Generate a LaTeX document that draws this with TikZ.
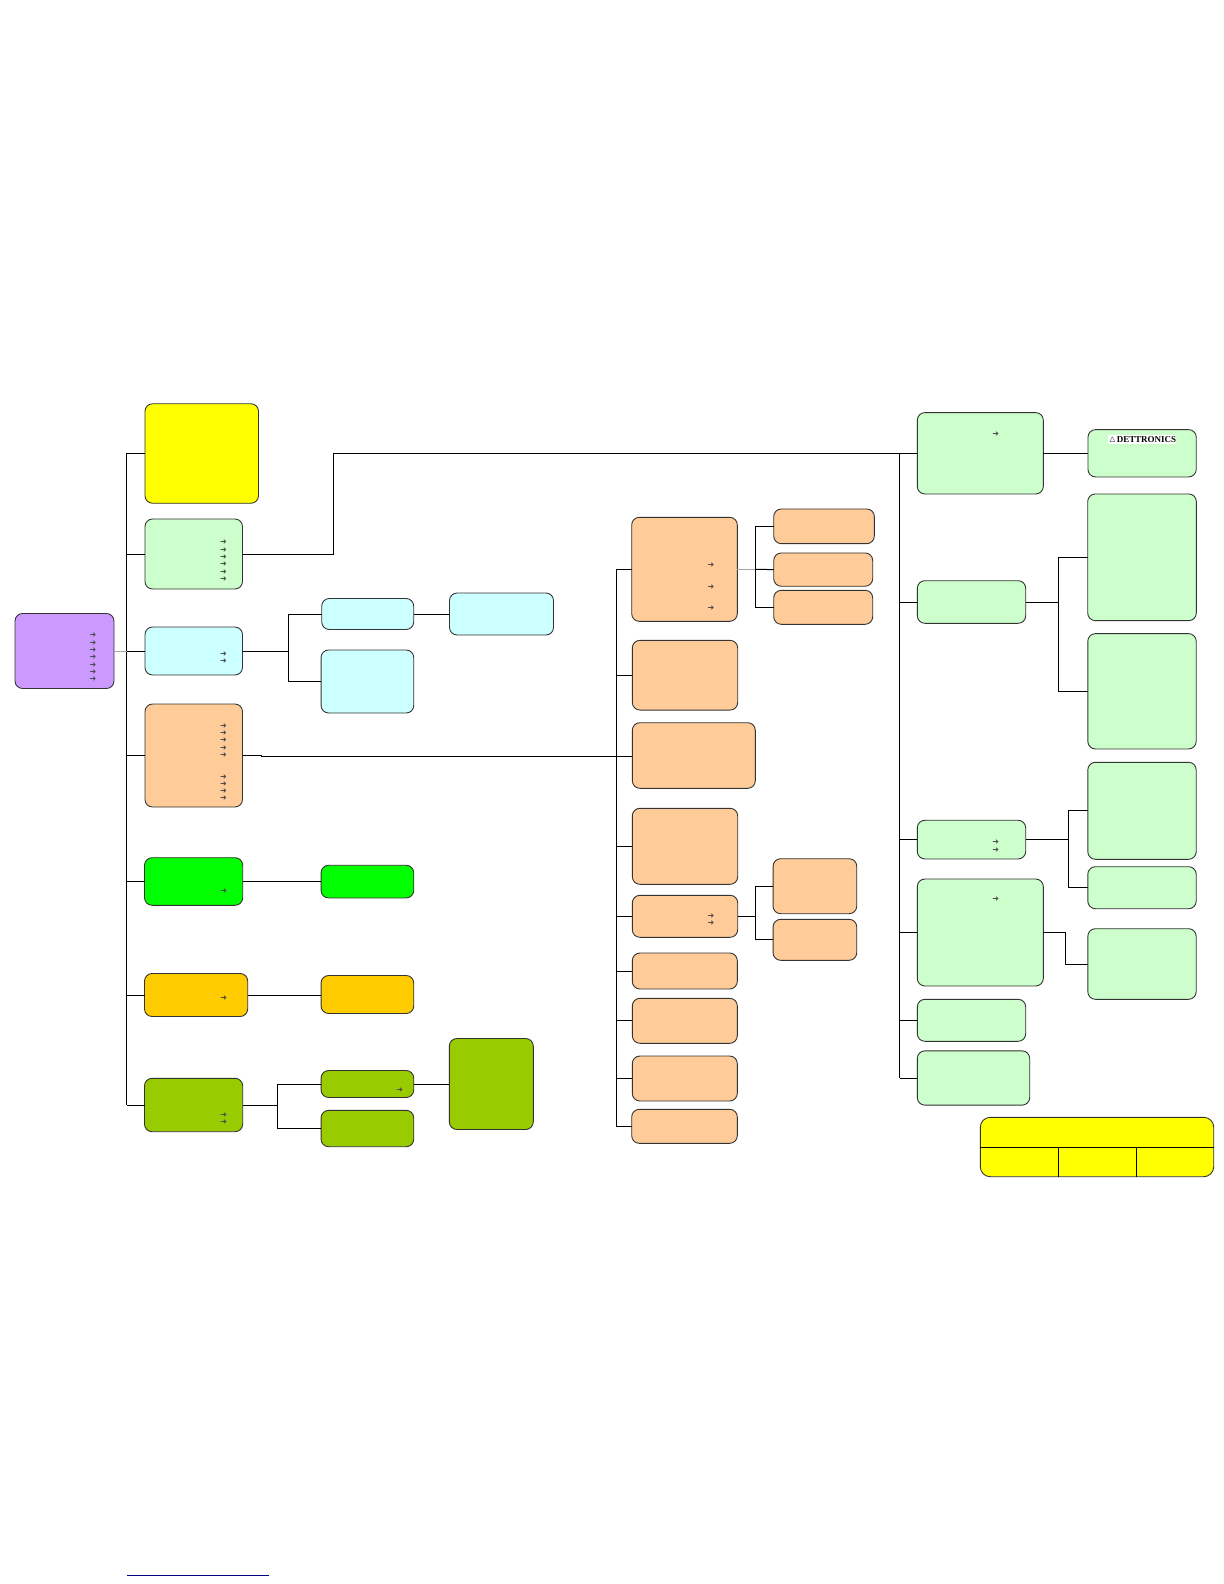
\documentclass[tikz,border=0pt]{standalone}
\usepackage{fontspec}
\newfontfamily\symfont{DejaVu Sans}
\newfontfamily\logofont{Liberation Serif}
\definecolor{purplebox}{HTML}{CC99FF}
\definecolor{mintbox}{HTML}{CCFFCC}
\definecolor{icebox}{HTML}{CCFFFF}
\definecolor{peachbox}{HTML}{FFCC99}
\definecolor{limebox}{HTML}{00FF00}
\definecolor{amberbox}{HTML}{FFCC00}
\definecolor{olivebox}{HTML}{99CC00}
\definecolor{yellowbox}{HTML}{FFFF00}
\tikzset{
    box/.style={draw=black!80, line width=0.45pt, rounded corners=3.8pt, inner sep=0pt, outer sep=0pt},
    wh/.style 2 args={minimum width=#1*0.5pt, minimum height=#2*0.5pt},
    link/.style={line width=0.5pt, black},
    paleLink/.style={line width=0.5pt, black!35},
    arrowmark/.style={inner sep=0pt, font=\symfont\fontsize{4}{4}\selectfont, text=black!70},
}
\begin{document}
\begin{tikzpicture}[x=0.5pt, y=-0.5pt]
    \useasboundingbox (0,0) rectangle (1224,1584);
    % left column
    \node[box, fill=purplebox, wh={99}{75}] (pur) at (64.5,651) {};
    \node[box, fill=yellowbox, wh={113.5}{99.5}] (yel) at (201.75,453.5) {};
    \node[box, fill=mintbox, wh={97.5}{70}] (mnt) at (193.75,554) {};
    \node[box, fill=icebox, wh={97.5}{48}] (ice) at (193.75,651) {};
    \node[box, fill=peachbox, wh={97.5}{103}] (pch) at (193.75,755.5) {};
    \node[box, fill=limebox, wh={98.2}{47.6}] (lim) at (193.6,881.5) {};
    \node[box, fill=amberbox, wh={103.2}{43}] (amb) at (196.1,995) {};
    \node[box, fill=olivebox, wh={98.2}{53.4}] (oli) at (193.6,1105) {};
    % second column
    \node[box, fill=icebox, wh={92}{31}] (iceA) at (367.7,614) {};
    \node[box, fill=icebox, wh={92.7}{63}] (iceB) at (367.4,681.5) {};
    \node[box, fill=icebox, wh={104}{42}] (iceC) at (501.5,614) {};
    \node[box, fill=limebox, wh={92.7}{32.7}] (limA) at (367.4,881.6) {};
    \node[box, fill=amberbox, wh={92.7}{38}] (ambA) at (367.4,994.5) {};
    \node[box, fill=olivebox, wh={92.7}{27}] (oliA) at (367.4,1084) {};
    \node[box, fill=olivebox, wh={92.7}{36.4}] (oliB) at (367.4,1128.5) {};
    \node[box, fill=olivebox, wh={84}{91}] (oliC) at (491.3,1084) {};
    % peach column
    \node[box, fill=peachbox, wh={105.6}{104}] (pchA) at (684.5,569.3) {};
    \node[box, fill=peachbox, wh={105.4}{69.7}] (pchB) at (685,675.2) {};
    \node[box, fill=peachbox, wh={123}{65.6}] (pchC) at (693.8,755.5) {};
    \node[box, fill=peachbox, wh={105.4}{76}] (pchD) at (685,846.3) {};
    \node[box, fill=peachbox, wh={105.4}{42}] (pchE) at (685,916.3) {};
    \node[box, fill=peachbox, wh={105}{36}] (pchF) at (684.8,971) {};
    \node[box, fill=peachbox, wh={105}{45}] (pchG) at (684.8,1020.8) {};
    \node[box, fill=peachbox, wh={105}{45}] (pchH) at (684.8,1078.5) {};
    \node[box, fill=peachbox, wh={105.6}{34}] (pchI) at (684.5,1126.3) {};
    \node[box, fill=peachbox, wh={100.6}{34.7}] (subA) at (824,526.3) {};
    \node[box, fill=peachbox, wh={99}{33.3}] (subB) at (823.2,569.6) {};
    \node[box, fill=peachbox, wh={99}{34}] (subC) at (823.2,607.3) {};
    \node[box, fill=peachbox, wh={83.7}{55}] (subD) at (814.9,886.2) {};
    \node[box, fill=peachbox, wh={83.7}{41}] (subE) at (814.9,939.8) {};
    % right column
    \node[box, fill=mintbox, wh={126}{81.4}] (tabA) at (980.3,453.3) {};
    \node[box, fill=mintbox, wh={108.4}{42.6}] (tabB) at (971.5,602) {};
    \node[box, fill=mintbox, wh={108.4}{38.7}] (tabC) at (971.5,839.6) {};
    \node[box, fill=mintbox, wh={126}{107}] (tabD) at (980.3,932.5) {};
    \node[box, fill=mintbox, wh={108.4}{42}] (tabE) at (971.5,1020.3) {};
    \node[box, fill=mintbox, wh={112.4}{54.3}] (tabF) at (973.5,1078) {};
    \node[box, fill=mintbox, wh={108.3}{47.3}] (logoBox) at (1142.1,453.3) {};
    \node[box, fill=mintbox, wh={108.6}{126.7}] (tabG) at (1142,557.3) {};
    \node[box, fill=mintbox, wh={108.4}{115.3}] (tabH) at (1142,691.3) {};
    \node[box, fill=mintbox, wh={108.4}{97}] (tabI) at (1142,810.8) {};
    \node[box, fill=mintbox, wh={108.4}{42}] (tabJ) at (1142,887.7) {};
    \node[box, fill=mintbox, wh={108.4}{70.6}] (tabK) at (1142,964) {};
    % logo
    \node[fill=white, inner sep=0pt, wh={67.4}{9}] (logo) at (1142,439.5) {};
    \node[inner sep=0pt, font=\logofont\bfseries\fontsize{4.5}{4.5}\selectfont] (logoTxt) at (1146.5,439.8) {DET\kern-0.15pt TRONICS};
    \node[inner sep=0pt, font=\symfont\bfseries\fontsize{3.6}{3.6}\selectfont] (logoTri) at (1112.3,439.5) {△};
    % title table
    \node[box, fill=yellowbox, wh={233.4}{59.4}, rounded corners=5pt] (tbl) at (1097,1147) {};
    \coordinate (tblA) at (1058.3,1147);
    \coordinate (tblB) at (1136,1147);
    \draw[link] (tbl.west) -- (tbl.east);
    \draw[link] (tblA) -- (tblA |- tbl.south);
    \draw[link] (tblB) -- (tblB |- tbl.south);
    % buses
    \coordinate (busL) at (126.7,453.3);
    \coordinate (busM) at (616.3,569.3);
    \coordinate (busR) at (899.7,453.3);
    \draw[link] (busL) -- (busL |- oli.west);
    \draw[link] (busM) -- (busM |- pchI.west);
    \draw[link] (busR) -- (busR |- tabF.west);
    \foreach \n in {yel,mnt,ice,pch,lim,amb,oli} \draw[link] (\n.west) -- (\n.west -| busL);
    \foreach \n in {pchA,pchB,pchD,pchE,pchF,pchG,pchH,pchI} \draw[link] (\n.west) -- (\n.west -| busM);
    \foreach \n in {tabA,tabB,tabC,tabD,tabE,tabF} \draw[link] (\n.west) -- (\n.west -| busR);
    \draw[paleLink] (pur.east) -- (pur.east -| busL);
    % long links
    \coordinate (bendG) at (333.3,453.3);
    \coordinate (kinkP) at (261,756.7);
    \draw[link] (mnt.east) -| (bendG) -- (tabA.west);
    \draw[link] (pch.east) -- (pch.east -| kinkP) -- (kinkP) -- (kinkP -| pchC.west);
    % branches
    \coordinate (jctI) at (288.3,651);
    \draw[link] (ice.east) -- (jctI);
    \draw[link] (iceA.west) -| (jctI) |- (iceB.west);
    \draw[link] (iceA.east) -- (iceC.west);
    \draw[link] (lim.east) -- (lim.east -| limA.west);
    \draw[link] (amb.east) -- (amb.east -| ambA.west);
    \coordinate (jctO) at (277.3,1105);
    \draw[link] (oli.east) -- (jctO);
    \draw[link] (oliA.west) -| (jctO) |- (oliB.west);
    \draw[link] (oliA.east) -- (oliC.west);
    \coordinate (jctA) at (755.3,569.3);
    \draw[paleLink] (pchA.east) -- (jctA);
    \draw[link] (jctA) -- (subB.west);
    \draw[link] (subA.west) -| (jctA) |- (subC.west);
    \coordinate (jctD) at (755.3,916.3);
    \draw[link] (pchE.east) -- (jctD);
    \draw[link] (subD.west) -| (jctD) |- (subE.west);
    \draw[link] (tabA.east) -- (logoBox.west);
    \coordinate (jctB) at (1058.3,602);
    \draw[link] (tabB.east) -- (jctB);
    \draw[link] (tabG.west) -| (jctB) |- (tabH.west);
    \coordinate (jctC) at (1068.3,839.6);
    \draw[link] (tabC.east) -- (jctC);
    \draw[link] (tabI.west) -| (jctC) |- (tabJ.west);
    \coordinate (jctK) at (1065.3,932.5);
    \draw[link] (tabD.east) -- (jctK) |- (tabK.west);
    % arrow marks
    \foreach \y [count=\i] in {635,643,650,657,665,672,679} \node[arrowmark] (arP\i) at (93,\y) {➜};
    \foreach \y [count=\i] in {542,550,557,564,572,579} \node[arrowmark] (arM\i) at (223.5,\y) {➜};
    \foreach \y [count=\i] in {654,661} \node[arrowmark] (arI\i) at (223.5,\y) {➜};
    \foreach \y [count=\i] in {726,733,740,748,755,777,784,791,798} \node[arrowmark] (arC\i) at (223.5,\y) {➜};
    \foreach \y [count=\i] in {891,998,1115,1122} \node[arrowmark] (arL\i) at (223.7,\y) {➜};
    \node[arrowmark] (arO) at (399.7,1090.3) {➜};
    \foreach \y [count=\i] in {565,587,608,916,923.3} \node[arrowmark] (arA\i) at (710.9,\y) {➜};
    \foreach \y [count=\i] in {434,842.3,850.3,899.3} \node[arrowmark] (arT\i) at (995.7,\y) {➜};
    % page foot rule
    \coordinate (ruleA) at (127.3,1575);
    \coordinate (ruleB) at (269,1575);
    \draw[line width=0.5pt, color=blue!50!black] (ruleA) -- (ruleB);
\end{tikzpicture}
\end{document}
